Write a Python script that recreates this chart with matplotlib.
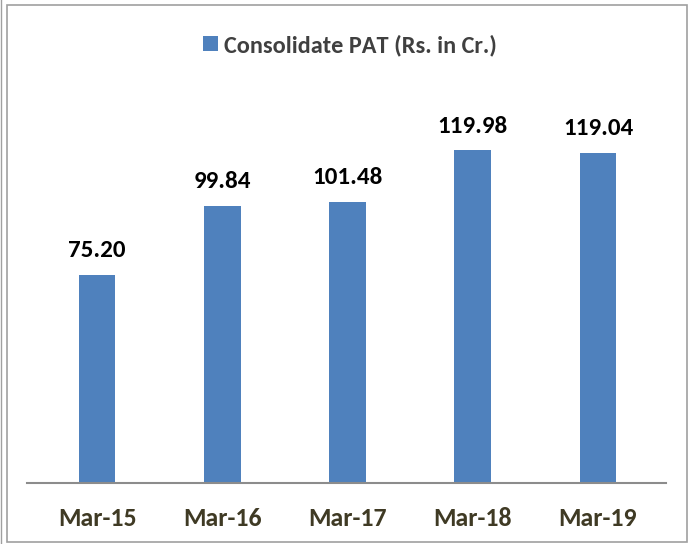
import matplotlib
matplotlib.use("Agg")
import matplotlib.pyplot as plt
from matplotlib.patches import Rectangle, Patch
from matplotlib import font_manager as fm

categories = ["Mar-15", "Mar-16", "Mar-17", "Mar-18", "Mar-19"]
values = [75.20, 99.84, 101.48, 119.98, 119.04]
labels = ["75.20", "99.84", "101.48", "119.98", "119.04"]

installed = {f.name for f in fm.fontManager.ttflist}
preferred = ["Carlito", "Calibri", "Liberation Sans Narrow", "Roboto Condensed",
             "PT Sans Narrow", "Open Sans Condensed", "Fira Sans Condensed",
             "Archivo Narrow", "Noto Sans"]
font = next((p for p in preferred if p in installed), "DejaVu Sans")
plt.rcParams['font.family'] = [font, 'DejaVu Sans']

W, H = 692, 544
fig = plt.figure(figsize=(W/100, H/100), dpi=100)
ax = fig.add_axes([27/W, 1 - 483/H, (666-27)/W, (483-95)/H])

bar_color = "#4F81BD"
x = list(range(len(categories)))
ax.bar(x, values, width=0.295, color=bar_color, zorder=2)
for xi, v, lab in zip(x, values, labels):
    ax.annotate(lab, (xi, v), xytext=(0, 10), textcoords="offset points",
                ha="center", va="bottom", fontsize=18, fontweight="bold", color="black")

ax.set_xlim(-0.559, 4.543)
ax.set_ylim(0, 140)
ax.set_xticks(x)
ax.set_xticklabels(categories, fontsize=18.5, fontweight="bold", color="#3F3A24")
ax.tick_params(axis="x", length=0, pad=17)
ax.set_yticks([])
for s in ["top", "left", "right"]:
    ax.spines[s].set_visible(False)
ax.spines["bottom"].set_color("#8C8C8C")
ax.spines["bottom"].set_linewidth(1.5)

handle = Patch(facecolor=bar_color, edgecolor="none")
fig.legend([handle], ["Consolidate PAT (Rs. in Cr.)"], loc="center",
           bbox_to_anchor=(350/W, 1 - 45/H), frameon=False,
           prop={"size": 17.5, "weight": "bold"}, labelcolor="#404040",
           handlelength=0.58, handleheight=0.58, handletextpad=0.25)

fig.add_artist(Rectangle((7/W, 2/H), (687-7)/W, (539-2)/H, transform=fig.transFigure,
                         fill=False, edgecolor="#A0A0A0", linewidth=1.2))
fig.add_artist(plt.Line2D([1.5/W, 1.5/W], [0, 1], transform=fig.transFigure,
                          color="#A0A0A0", linewidth=1))

fig.savefig("out.png", dpi=100)
